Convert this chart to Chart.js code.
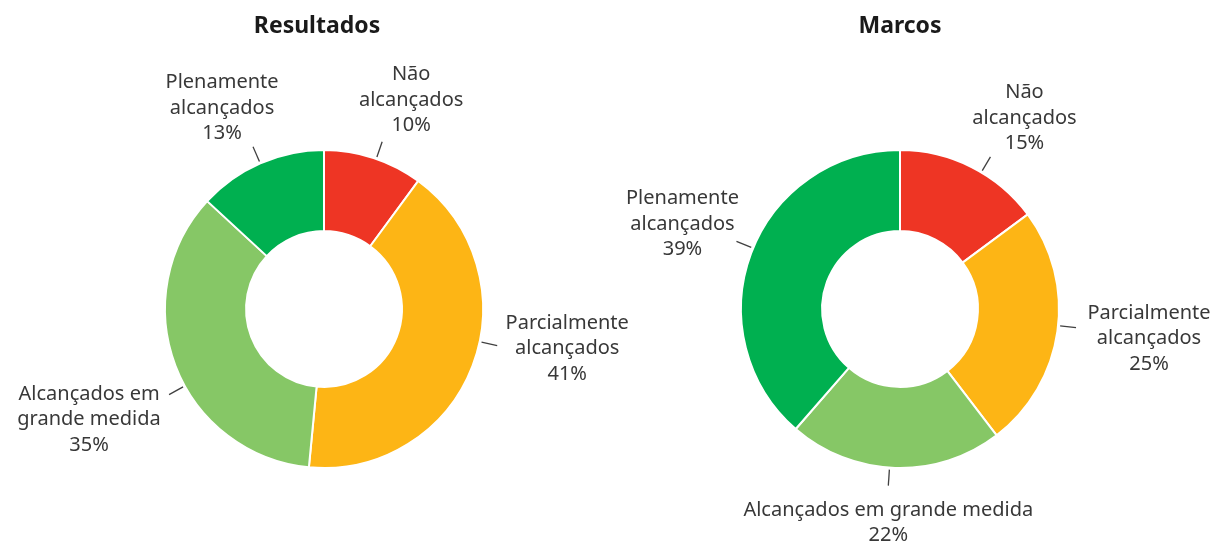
<!DOCTYPE html>
<html>
<head>
<meta charset="utf-8">
<script src="https://cdn.jsdelivr.net/npm/chart.js@4"></script>
<style>
  body { margin: 0; background: #fff; }
  #wrap { position: relative; width: 1218px; height: 545px; overflow: hidden; }
  .box { position: absolute; top: 0; height: 545px; }
</style>
</head>
<body>
<div id="wrap">
  <div class="box" style="left:0;width:700px"><canvas id="chartResultados"></canvas></div>
  <div class="box" style="left:500px;width:718px"><canvas id="chartMarcos"></canvas></div>
</div>
<script>
// dados
const categorias = ['Não alcançados', 'Parcialmente alcançados', 'Alcançados em grande medida', 'Plenamente alcançados'];
const resultados = [10, 41, 35, 13];
const marcos = [15, 25, 22, 39];
const cores = ['#EE3524', '#FDB515', '#86C766', '#00B050'];

// quebras de linha dos rótulos em cada gráfico
const linhasResultados = [['Não', 'alcançados'], ['Parcialmente', 'alcançados'], ['Alcançados em', 'grande medida'], ['Plenamente', 'alcançados']];
const linhasMarcos = [['Não', 'alcançados'], ['Parcialmente', 'alcançados'], ['Alcançados em grande medida'], ['Plenamente', 'alcançados']];

// ajuste da linha guia (graus) e deslocamento do texto a partir da ponta da linha
const posResultados = [
  { shift: 1, dx: 29, dy: -42 },
  { shift: -9, dx: 70, dy: 3 },
  { shift: -8, dx: -80, dy: 25 },
  { shift: 0, dx: -31, dy: -39 }
];
const posMarcos = [
  { shift: 4, dx: 34, dy: -39 },
  { shift: -2, dx: 73, dy: 11 },
  { shift: 2, dx: 0, dy: 37 },
  { shift: 2, dx: -54, dy: -17 }
];

const FONTE = '"Noto Sans", sans-serif';

const rotulos = {
  id: 'rotulos',
  afterDraw(chart, args, opts) {
    const ctx = chart.ctx;
    const meta = chart.getDatasetMeta(0);
    const valores = chart.data.datasets[0].data;
    ctx.save();
    // título
    ctx.fillStyle = '#1a1a1a';
    ctx.font = 'bold 23px ' + FONTE;
    ctx.textAlign = 'center';
    ctx.textBaseline = 'middle';
    ctx.fillText(opts.titulo, opts.tituloX, 26);

    ctx.font = '20px ' + FONTE;
    ctx.strokeStyle = '#404040';
    ctx.lineWidth = 1.3;
    meta.data.forEach((arc, i) => {
      const p = arc.getProps(['x', 'y', 'startAngle', 'endAngle', 'outerRadius'], true);
      const pos = opts.pos[i];
      const ang = (p.startAngle + p.endAngle) / 2 + pos.shift * Math.PI / 180;
      const cx = Math.cos(ang), cy = Math.sin(ang);
      const r0 = p.outerRadius + 2, r1 = p.outerRadius + 18;
      const ex = p.x + cx * r1, ey = p.y + cy * r1;
      ctx.beginPath();
      ctx.moveTo(p.x + cx * r0, p.y + cy * r0);
      ctx.lineTo(ex, ey);
      ctx.stroke();

      const linhas = opts.linhas[i].concat([valores[i] + '%']);
      const lh = 25.5;
      const tx = ex + pos.dx, ty = ey + pos.dy;
      const y0 = ty - (linhas.length - 1) * lh / 2;
      ctx.fillStyle = '#383838';
      linhas.forEach((t, k) => ctx.fillText(t, tx, y0 + k * lh));
    });
    ctx.restore();
  }
};

function criar(id, dados, titulo, tituloX, linhas, pos, pad) {
  new Chart(document.getElementById(id), {
    type: 'doughnut',
    data: {
      labels: categorias,
      datasets: [{
        data: dados,
        backgroundColor: cores,
        borderColor: '#ffffff',
        borderWidth: 2
      }]
    },
    options: {
      responsive: true,
      maintainAspectRatio: false,
      animation: false,
      cutout: '49%',
      layout: { padding: pad },
      plugins: {
        legend: { display: false },
        tooltip: { enabled: false },
        rotulos: { titulo: titulo, tituloX: tituloX, linhas: linhas, pos: pos }
      }
    },
    plugins: [rotulos]
  });
}

criar('chartResultados', resultados, 'Resultados', 317, linhasResultados, posResultados,
  { top: 149, bottom: 76, left: 164, right: 216 });
criar('chartMarcos', marcos, 'Marcos', 400, linhasMarcos, posMarcos,
  { top: 149, bottom: 76, left: 240, right: 158 });
</script>
</body>
</html>
